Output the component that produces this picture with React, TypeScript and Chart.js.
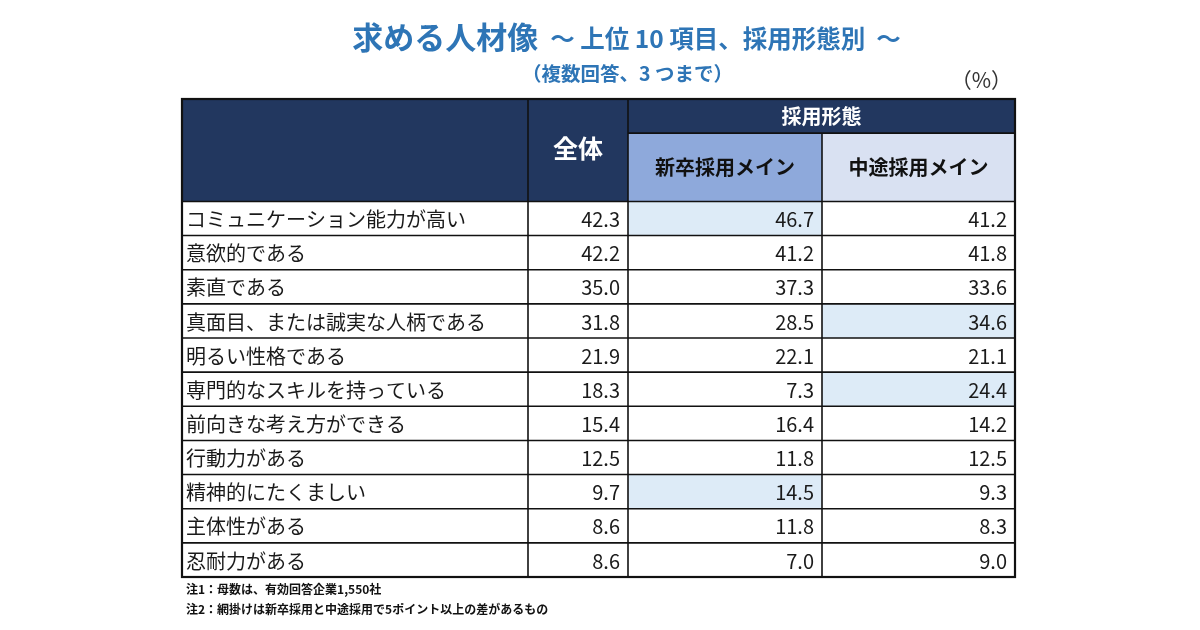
import React, { useEffect, useRef } from "react";
import { Chart, registerables } from "chart.js";

Chart.register(...registerables);

// ---- data ----
const ITEMS = [
  "コミュニケーション能力が高い",
  "意欲的である",
  "素直である",
  "真面目、または誠実な人柄である",
  "明るい性格である",
  "専門的なスキルを持っている",
  "前向きな考え方ができる",
  "行動力がある",
  "精神的にたくましい",
  "主体性がある",
  "忍耐力がある",
];
const TOTAL = [42.3, 42.2, 35.0, 31.8, 21.9, 18.3, 15.4, 12.5, 9.7, 8.6, 8.6];
const NEW_GRAD = [46.7, 41.2, 37.3, 28.5, 22.1, 7.3, 16.4, 11.8, 14.5, 11.8, 7.0];
const MID_CAREER = [41.2, 41.8, 33.6, 34.6, 21.1, 24.4, 14.2, 12.5, 9.3, 8.3, 9.0];
const HEADERS = ["全体", "採用形態", "新卒採用メイン", "中途採用メイン"];
const TITLE_MAIN = "求める人材像";
const TITLE_SUB = "～ 上位 10 項目、採用形態別  ～";
const SUBTITLE = "（複数回答、3 つまで）";
const UNIT = "（%）";
const NOTES = [
  "注1：母数は、有効回答企業1,550社",
  "注2：網掛けは新卒採用と中途採用で5ポイント以上の差があるもの",
];
const DIFF_THRESHOLD = 5;

// ---- layout (not data) ----
const COL_EDGES = [0, 346, 446, 640, 833]; // x-scale units
const HEADER_UNITS = 3; // y units taken by header
const HEADER_SPLIT = 1; // first header row height in y units
const FONT = '"Noto Sans CJK JP", "Noto Sans", sans-serif';
const NAVY = "#22375F";
const NEW_HEAD = "#8EA9DB";
const MID_HEAD = "#D9E1F2";
const HILITE = "#DDEBF7";
const TITLE_BLUE = "#2E75B6";

const tablePlugin = {
  id: "tablePlugin",
  afterDraw(chart: any) {
    const ctx: CanvasRenderingContext2D = chart.ctx;
    const xs = chart.scales.x;
    const ys = chart.scales.y;
    const X = (v: number) => xs.getPixelForValue(v);
    const Y = (v: number) => ys.getPixelForValue(v);
    const rect = (x0: number, x1: number, y0: number, y1: number, color: string) => {
      ctx.fillStyle = color;
      ctx.fillRect(X(x0), Y(y0), X(x1) - X(x0), Y(y1) - Y(y0));
    };
    const text = (
      s: string,
      x: number,
      y: number,
      font: string,
      color: string,
      align: CanvasTextAlign
    ) => {
      ctx.font = font;
      ctx.fillStyle = color;
      ctx.textAlign = align;
      ctx.textBaseline = "middle";
      ctx.fillText(s, x, y);
    };
    ctx.save();
    const nRows = ITEMS.length;
    const yEnd = HEADER_UNITS + nRows;
    // header fills
    rect(COL_EDGES[0], COL_EDGES[4], 0, HEADER_UNITS, NAVY);
    rect(COL_EDGES[2], COL_EDGES[3], HEADER_SPLIT, HEADER_UNITS, NEW_HEAD);
    rect(COL_EDGES[3], COL_EDGES[4], HEADER_SPLIT, HEADER_UNITS, MID_HEAD);
    // highlight cells
    for (let i = 0; i < nRows; i++) {
      const d = NEW_GRAD[i] - MID_CAREER[i];
      const y0 = HEADER_UNITS + i;
      if (d >= DIFF_THRESHOLD) rect(COL_EDGES[2], COL_EDGES[3], y0, y0 + 1, HILITE);
      if (-d >= DIFF_THRESHOLD) rect(COL_EDGES[3], COL_EDGES[4], y0, y0 + 1, HILITE);
    }
    // grid lines
    ctx.strokeStyle = "#111";
    ctx.lineWidth = 1.6;
    const hline = (x0: number, x1: number, y: number) => {
      ctx.beginPath();
      ctx.moveTo(X(x0), Y(y));
      ctx.lineTo(X(x1), Y(y));
      ctx.stroke();
    };
    const vline = (x: number, y0: number, y1: number) => {
      ctx.beginPath();
      ctx.moveTo(X(x), Y(y0));
      ctx.lineTo(X(x), Y(y1));
      ctx.stroke();
    };
    for (let i = 0; i <= nRows; i++) hline(COL_EDGES[0], COL_EDGES[4], HEADER_UNITS + i);
    hline(COL_EDGES[0], COL_EDGES[4], 0);
    hline(COL_EDGES[2], COL_EDGES[4], HEADER_SPLIT);
    vline(COL_EDGES[0], 0, yEnd);
    vline(COL_EDGES[1], 0, yEnd);
    vline(COL_EDGES[2], 0, yEnd);
    vline(COL_EDGES[3], HEADER_SPLIT, yEnd);
    vline(COL_EDGES[4], 0, yEnd);
    ctx.lineWidth = 2.2;
    ctx.strokeRect(X(COL_EDGES[0]), Y(0), X(COL_EDGES[4]) - X(COL_EDGES[0]), Y(yEnd) - Y(0));

    // header texts
    const cx = (a: number, b: number) => (X(COL_EDGES[a]) + X(COL_EDGES[b])) / 2;
    text(HEADERS[0], cx(1, 2), Y(HEADER_UNITS / 2) - 2, `bold 25px ${FONT}`, "#fff", "center");
    text(HEADERS[1], cx(2, 4), Y(HEADER_SPLIT / 2), `bold 20px ${FONT}`, "#fff", "center");
    const sub = (HEADER_SPLIT + HEADER_UNITS) / 2;
    text(HEADERS[2], cx(2, 3), Y(sub), `bold 20px ${FONT}`, "#111", "center");
    text(HEADERS[3], cx(3, 4), Y(sub), `bold 20px ${FONT}`, "#111", "center");

    // body texts
    const bodyFont = `20px ${FONT}`;
    const cols = [TOTAL, NEW_GRAD, MID_CAREER];
    for (let i = 0; i < nRows; i++) {
      const yc = Y(HEADER_UNITS + i + 0.5) + 1;
      text(ITEMS[i], X(COL_EDGES[0]) + 4, yc, bodyFont, "#1a1a1a", "left");
      cols.forEach((arr, k) => {
        text(arr[i].toFixed(1), X(COL_EDGES[k + 2]) - 8, yc, bodyFont, "#1a1a1a", "right");
      });
    }

    // titles & notes
    const f1 = `bold 31px ${FONT}`;
    const f2 = `bold 24.5px ${FONT}`;
    ctx.font = f1;
    const w1 = ctx.measureText(TITLE_MAIN).width;
    ctx.font = f2;
    const w2 = ctx.measureText(TITLE_SUB).width;
    const gap = 12;
    const titleCx = (X(COL_EDGES[0]) + X(COL_EDGES[4])) / 2 + 28;
    const tStart = titleCx - (w1 + gap + w2) / 2;
    text(TITLE_MAIN, tStart, 37, f1, TITLE_BLUE, "left");
    text(TITLE_SUB, tStart + w1 + gap, 39, f2, TITLE_BLUE, "left");
    text(SUBTITLE, titleCx + 1, 74, `bold 19.5px ${FONT}`, TITLE_BLUE, "center");
    text(UNIT, X(COL_EDGES[4]) - 3, 80, `21px ${FONT}`, "#333", "right");
    text(NOTES[0], X(COL_EDGES[0]) + 4, Y(yEnd) + 12, `bold 12px ${FONT}`, "#111", "left");
    text(NOTES[1], X(COL_EDGES[0]) + 4, Y(yEnd) + 32, `bold 12px ${FONT}`, "#111", "left");
    ctx.restore();
  },
};

export default function App() {
  const ref = useRef<HTMLCanvasElement | null>(null);
  useEffect(() => {
    if (!ref.current) return;
    const chart = new Chart(ref.current, {
      type: "bar",
      data: { labels: [], datasets: [] },
      options: {
        animation: false,
        responsive: false,
        maintainAspectRatio: false,
        layout: { padding: { left: 182, right: 185, top: 99, bottom: 53 } },
        plugins: { legend: { display: false }, tooltip: { enabled: false }, title: { display: false } },
        scales: {
          x: {
            type: "linear",
            offset: false,
            grid: { offset: false },
            min: COL_EDGES[0],
            max: COL_EDGES[COL_EDGES.length - 1],
            display: false,
          },
          y: {
            type: "linear",
            offset: false,
            grid: { offset: false },
            min: 0,
            max: HEADER_UNITS + ITEMS.length,
            reverse: true,
            display: false,
          },
        },
      },
      plugins: [tablePlugin],
    } as any);
    return () => chart.destroy();
  }, []);
  return (
    <div style={{ position: "absolute", left: 0, top: 0, width: 1200, height: 630, background: "#fff" }}>
      <canvas ref={ref} width={1200} height={630} style={{ width: 1200, height: 630 }} />
    </div>
  );
}
